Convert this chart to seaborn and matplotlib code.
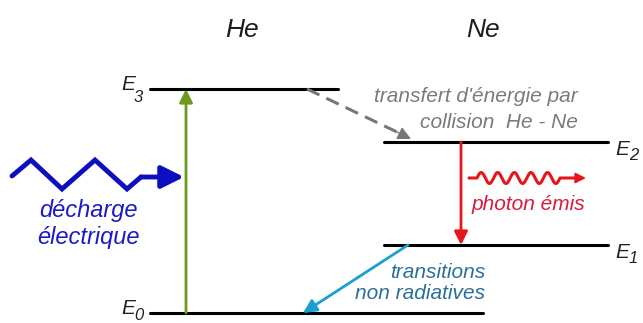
import numpy as np
import pandas as pd
import matplotlib
matplotlib.use("Agg")
import matplotlib.pyplot as plt
import seaborn as sns

sns.set_theme(style="white")
plt.rcParams['font.family'] = ['Liberation Sans', 'DejaVu Sans']

# D A T A  (diagram units, y = energy axis)
level_names = ['E0', 'E1', 'E2', 'E3']
level_energy = [10, 78, 181, 234]
level_x_start = [150, 384, 384, 150]
level_x_end = [483, 608, 608, 338]

atoms = ['He', 'Ne']
atom_x = [242, 483]

# electric discharge zigzag
zigzag_x = [12, 31, 62, 95, 127, 141]
zigzag_y = [147, 163, 134, 163, 134, 146]

df = pd.DataFrame({
    'x': level_x_start + level_x_end,
    'y': level_energy + level_energy,
    'level': level_names + level_names,
})

fig = plt.figure(figsize=(6.43, 3.23), dpi=100)
ax = fig.add_axes([0, 0, 1, 1])

sns.lineplot(data=df, x='x', y='y', units='level', estimator=None,
             color='black', lw=2.2, ax=ax, legend=False)

ax.set_xlim(0, 643)
ax.set_ylim(0, 323)
ax.axis('off')

lab = dict(style='italic', color='#222222', va='baseline')
# level labels (E + subscript)
for name, e, xs, xe in zip(level_names, level_energy, level_x_start, level_x_end):
    if xs < 200:
        sub_drop = 13 if e > 50 else 7
        ax.text(xs - 15, e - 1, name[0], ha='right', fontsize=15, **lab)
        ax.text(xs - 16, e - sub_drop, name[1], ha='left', fontsize=12, **lab)
    else:
        ax.text(xe + 7, e - 13, name[0], ha='left', fontsize=15, **lab)
        ax.text(xe + 21, e - 18, name[1], ha='left', fontsize=12, **lab)

for a, x in zip(atoms, atom_x):
    ax.text(x, 293, a, ha='center', va='center', fontsize=19, style='italic', color='#1e1e1e')

# green pumping arrow He E0 -> E3
ax.annotate('', xy=(186, level_energy[3]), xytext=(186, level_energy[0]),
            arrowprops=dict(arrowstyle='-|>', color='#6b9b1e', lw=2, mutation_scale=20,
                            shrinkA=0, shrinkB=0))

# red emission arrow Ne E2 -> E1
ax.annotate('', xy=(461, level_energy[1]), xytext=(461, level_energy[2]),
            arrowprops=dict(arrowstyle='-|>', color='#e6151b', lw=2, mutation_scale=20,
                            shrinkA=0, shrinkB=0))

# grey dashed transfer arrow
ax.plot([307, 397], [234, 191], color='#777777', lw=2.2, ls=(0, (4.5, 2.5)))
ax.annotate('', xy=(411, 184), xytext=(397, 191),
            arrowprops=dict(arrowstyle='-|>', color='#777777', lw=1, mutation_scale=20,
                            shrinkA=0, shrinkB=0))
ax.text(578, 226, "transfert d'énergie par", ha='right', va='center', fontsize=15,
        style='italic', color='#7a7a7a')
ax.text(578, 201, "collision  He - Ne", ha='right', va='center', fontsize=15,
        style='italic', color='#7a7a7a')

# blue discharge zigzag
ax.plot(zigzag_x, zigzag_y, color='#0b0fbf', lw=3.5, solid_joinstyle='miter')
ax.annotate('', xy=(184, 146), xytext=(zigzag_x[-1], zigzag_y[-1]),
            arrowprops=dict(arrowstyle='-|>', color='#0b0fbf', lw=3.5, mutation_scale=34,
                            shrinkA=0, shrinkB=0))
ax.text(88, 99, "décharge\nélectrique", ha='center', va='center', fontsize=17,
        style='italic', color='#1a1acc', linespacing=1.2)

# red photon wave
t = np.linspace(477, 560, 300)
wx = np.concatenate([[469], t, [574]])
wy = np.concatenate([[145], 145 + 5.5 * np.sin(2 * np.pi * (t - 477) / 16.6), [145]])
ax.plot(wx, wy, color='#e6151b', lw=2.2)
ax.annotate('', xy=(586, 145), xytext=(572, 145),
            arrowprops=dict(arrowstyle='-|>', color='#e6151b', lw=1.5, mutation_scale=15,
                            shrinkA=0, shrinkB=0))
ax.text(472, 118, "photon émis", ha='left', va='center', fontsize=15,
        style='italic', color='#d81b3c')

# non radiative transitions
ax.annotate('', xy=(303, level_energy[0]), xytext=(408, level_energy[1]),
            arrowprops=dict(arrowstyle='-|>', color='#1b9fd1', lw=2, mutation_scale=20,
                            shrinkA=0, shrinkB=0))
ax.text(485, 40, "transitions\nnon radiatives", ha='right', va='center', fontsize=15,
        style='italic', color='#2a6f9a', multialignment='right', linespacing=1.15)

fig.savefig('out.png', dpi=100)
